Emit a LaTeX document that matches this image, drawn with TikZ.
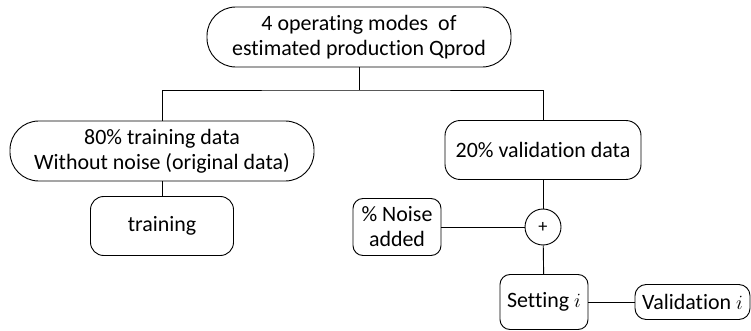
\documentclass[tikz,border=0pt]{standalone}
\usepackage{fontspec}
\setmainfont{Carlito}[Ligatures={NoCommon}]
\usepackage{tikz}
\usetikzlibrary{positioning}

\begin{document}
\begin{tikzpicture}[x=1cm,y=1cm,line width=0.65pt,
    pill/.style={draw,rounded corners=0.72cm,align=center,inner sep=0pt,font=\fontsize{15.6}{17.8}\selectfont},
    rbox/.style={draw,rounded corners=#1,align=center,inner sep=0pt,font=\fontsize{15.6}{17.8}\selectfont},
    rbox/.default=0.3cm]
    \useasboundingbox (0,0) rectangle (18.775,8.25);

    \node[pill,minimum width=7.6cm,minimum height=1.5cm] (modes) at (8.975,7.325) {4 operating modes\ \ of\\estimated production Qprod};
    \node[pill,minimum width=7.6cm,minimum height=1.5cm] (train80) at (4.05,4.475) {80\% training data\\Without noise (original data)};
    \node[rbox=0.38cm,minimum width=4.9cm,minimum height=1.475cm] (valid20) at (13.575,4.5) {20\% validation data};
    \node[rbox=0.33cm,minimum width=3.575cm,minimum height=1.475cm] (training) at (4.05,2.6) {training};
    \node[rbox=0.25cm,minimum width=2.2cm,minimum height=1.425cm] (noise) at (9.925,2.575) {\% Noise\\added};
    \node[draw,circle,minimum size=0.9cm,inner sep=0pt,font=\fontsize{13}{15}\selectfont] (plus) at (13.575,2.575) {+};
    \node[rbox=0.25cm,minimum width=2.2cm,minimum height=1.375cm] (setting) at (13.6,0.7) {Setting $i$};
    \node[rbox=0.28cm,minimum width=2.875cm,minimum height=0.875cm] (validation) at (17.3125,0.7) {Validation $i$};

    \coordinate (split) at (8.975,6.0);
    \draw (modes) -- (split);
    \draw (train80) |- (split) -| (valid20);
    \draw (train80) -- (training);
    \draw (valid20) -- (plus);
    \draw (noise) -- (plus);
    \draw (plus) -- (setting);
    \draw (setting) -- (validation);
  \end{tikzpicture}
\end{document}
